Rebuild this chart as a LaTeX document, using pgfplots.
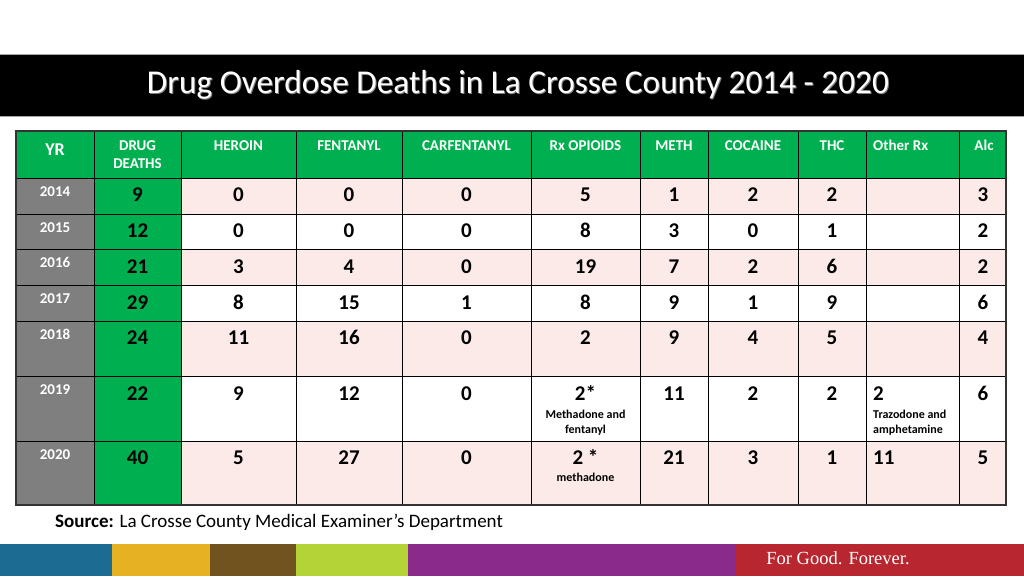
\documentclass[border=0pt]{standalone}
\usepackage{fontspec}
\setmainfont{Carlito}
\newfontfamily\serifff{Liberation Serif}
\usepackage{pgfplots}
\usepackage{pgfplotstable}
\pgfplotsset{compat=1.18}

\definecolor{hdrgreen}{HTML}{00B050}
\definecolor{yrgray}{HTML}{7F7F7F}
\definecolor{pinkcell}{HTML}{FBEAE7}
\definecolor{cBlue}{HTML}{1C6B93}
\definecolor{cYellow}{HTML}{E6B224}
\definecolor{cBrown}{HTML}{70531F}
\definecolor{cLime}{HTML}{B3D336}
\definecolor{cPurple}{HTML}{8A2A8B}
\definecolor{cRed}{HTML}{B8262F}

\tikzset{
  hdr/.style={text=white, font=\fontsize{15}{18}\bfseries\selectfont, inner sep=0pt, anchor=center},
  note/.style={font=\fontsize{12}{14}\bfseries\selectfont, inner sep=0pt, anchor=center},
}
\pgfplotsset{
  labels/.style={draw=none, mark=none,
    nodes near coords={\pgfplotspointmeta}, point meta=explicit symbolic},
}

% values: x = column centre (px), y = text line (px), label
\pgfplotstableread[col sep=comma]{
x,y,label
137.5,195,9
238.5,195,0
349,195,0
466.5,195,0
585.5,195,5
674,195,1
753,195,2
832,195,2
983,195,3
137.5,231,12
238.5,231,0
349,231,0
466.5,231,0
585.5,231,8
674,231,3
753,231,0
832,231,1
983,231,2
137.5,266.5,21
238.5,266.5,3
349,266.5,4
466.5,266.5,0
585.5,266.5,19
674,266.5,7
753,266.5,2
832,266.5,6
983,266.5,2
137.5,302.5,29
238.5,302.5,8
349,302.5,15
466.5,302.5,1
585.5,302.5,8
674,302.5,9
753,302.5,1
832,302.5,9
983,302.5,6
137.5,338,24
238.5,338,11
349,338,16
466.5,338,0
585.5,338,2
674,338,9
753,338,4
832,338,5
983,338,4
137.5,394,22
238.5,394,9
349,394,12
466.5,394,0
585.5,394,2*
674,394,11
753,394,2
832,394,2
983,394,6
137.5,458,40
238.5,458,5
349,458,27
466.5,458,0
585.5,458,2 *
674,458,21
753,458,3
832,458,1
983,458,5
}\numdata

\pgfplotstableread[col sep=comma]{
x,y,label
873,394,2
873,458,11
}\otherrx

\pgfplotstableread[col sep=comma]{
x,y,label
55,191.5,2014
55,227.5,2015
55,263,2016
55,299,2017
55,334.5,2018
55,389.5,2019
55,454.5,2020
}\years

\begin{document}
\begin{tikzpicture}
\begin{axis}[
  width=1024pt, height=576pt, scale only axis,
  xmin=0, xmax=1024, ymin=0, ymax=576, y dir=reverse,
  hide axis, clip=false,
]
% background
\fill[white] (axis cs:0,0) rectangle (axis cs:1024,576);
% title bar
\fill[black] (axis cs:0,54) rectangle (axis cs:1024,116.5);
\draw[gray!70, line width=0.8pt] (axis cs:0,54) -- (axis cs:1024,54);
\draw[gray!70, line width=0.8pt] (axis cs:0,116.5) -- (axis cs:1024,116.5);
\node[text=gray, font=\fontsize{33.3}{40}\selectfont, anchor=center] at (axis cs:519,86) {Drug Overdose Deaths in La Crosse County 2014 - 2020};
\node[text=white, font=\fontsize{33.3}{40}\selectfont, anchor=center] at (axis cs:518,85) {Drug Overdose Deaths in La Crosse County 2014 - 2020};

% cell fills
\fill[hdrgreen] (axis cs:16,131) rectangle (axis cs:1006,178);
\fill[yrgray] (axis cs:16,178) rectangle (axis cs:94,505);
\fill[hdrgreen] (axis cs:94,178) rectangle (axis cs:181,505);
\fill[pinkcell] (axis cs:181,178) rectangle (axis cs:1006,214);
\fill[pinkcell] (axis cs:181,249.5) rectangle (axis cs:1006,285.5);
\fill[pinkcell] (axis cs:181,321) rectangle (axis cs:1006,376);
\fill[pinkcell] (axis cs:181,441) rectangle (axis cs:1006,505);

% grid lines
\draw[black, line width=0.9pt]
  (axis cs:16,178) -- (axis cs:1006,178)
  (axis cs:16,214) -- (axis cs:1006,214)
  (axis cs:16,249.5) -- (axis cs:1006,249.5)
  (axis cs:16,285.5) -- (axis cs:1006,285.5)
  (axis cs:16,321) -- (axis cs:1006,321)
  (axis cs:16,376) -- (axis cs:1006,376)
  (axis cs:16,441) -- (axis cs:1006,441)
  (axis cs:94,131) -- (axis cs:94,505)
  (axis cs:181,131) -- (axis cs:181,505)
  (axis cs:296,131) -- (axis cs:296,505)
  (axis cs:402,131) -- (axis cs:402,505)
  (axis cs:531.5,131) -- (axis cs:531.5,505)
  (axis cs:640,131) -- (axis cs:640,505)
  (axis cs:708,131) -- (axis cs:708,505)
  (axis cs:798,131) -- (axis cs:798,505)
  (axis cs:866,131) -- (axis cs:866,505)
  (axis cs:959,131) -- (axis cs:959,505);
\draw[black!80, line width=1.3pt] (axis cs:16,131) rectangle (axis cs:1006,505);

% headers
\node[text=white, font=\fontsize{18}{21}\bfseries\selectfont, inner sep=0pt] at (axis cs:55,150) {YR};
\node[hdr] at (axis cs:137.5,145.5) {DRUG};
\node[hdr] at (axis cs:137.5,164) {DEATHS};
\node[hdr] at (axis cs:238.5,145.5) {HEROIN};
\node[hdr] at (axis cs:349,145.5) {FENTANYL};
\node[hdr] at (axis cs:466.5,145.5) {CARFENTANYL};
\node[hdr] at (axis cs:585.5,145.5) {Rx OPIOIDS};
\node[hdr] at (axis cs:674,145.5) {METH};
\node[hdr] at (axis cs:753,145.5) {COCAINE};
\node[hdr] at (axis cs:832,145.5) {THC};
\node[hdr, anchor=west] at (axis cs:873,145.5) {Other Rx};
\node[hdr] at (axis cs:984,145.5) {Alc};

% year labels
\addplot[labels,
  every node near coord/.append style={anchor=center, inner sep=0pt, text=white,
    text height=9.5pt, text depth=0pt,
    font=\fontsize{15}{18}\bfseries\selectfont}]
  table[x=x, y=y, meta=label] {\years};

% values
\addplot[labels,
  every node near coord/.append style={anchor=center, inner sep=0pt, text=black,
    text height=13.3pt, text depth=0pt,
    font=\fontsize{21}{25}\bfseries\selectfont}]
  table[x=x, y=y, meta=label] {\numdata};
\addplot[labels,
  every node near coord/.append style={anchor=west, inner sep=0pt, text=black,
    text height=13.3pt, text depth=0pt,
    font=\fontsize{21}{25}\bfseries\selectfont}]
  table[x=x, y=y, meta=label] {\otherrx};

% notes
\node[note] at (axis cs:585.5,414) {Methadone and};
\node[note] at (axis cs:585.5,430) {fentanyl};
\node[note] at (axis cs:585.5,477) {methadone};
\node[note, anchor=west] at (axis cs:873,414) {Trazodone and};
\node[note, anchor=west] at (axis cs:873,430) {amphetamine};

% source
\node[anchor=west, inner sep=0pt, font=\fontsize{19}{22}\selectfont] at (axis cs:55,522) {\textbf{Source:} La Crosse County Medical Examiner’s Department};

% bottom band
\fill[cBlue] (axis cs:0,544) rectangle (axis cs:112,576);
\fill[cYellow] (axis cs:112,544) rectangle (axis cs:210,576);
\fill[cBrown] (axis cs:210,544) rectangle (axis cs:296,576);
\fill[cLime] (axis cs:296,544) rectangle (axis cs:408,576);
\fill[cPurple] (axis cs:408,544) rectangle (axis cs:735,576);
\fill[cRed] (axis cs:735,544) rectangle (axis cs:1024,576);
\node[text=white, font=\serifff\fontsize{18.5}{22}\selectfont, anchor=center] at (axis cs:838,558) {For Good. Forever.};
\end{axis}
\pgfresetboundingbox
\path (0,0) rectangle (1024pt,576pt);
\end{tikzpicture}
\end{document}
